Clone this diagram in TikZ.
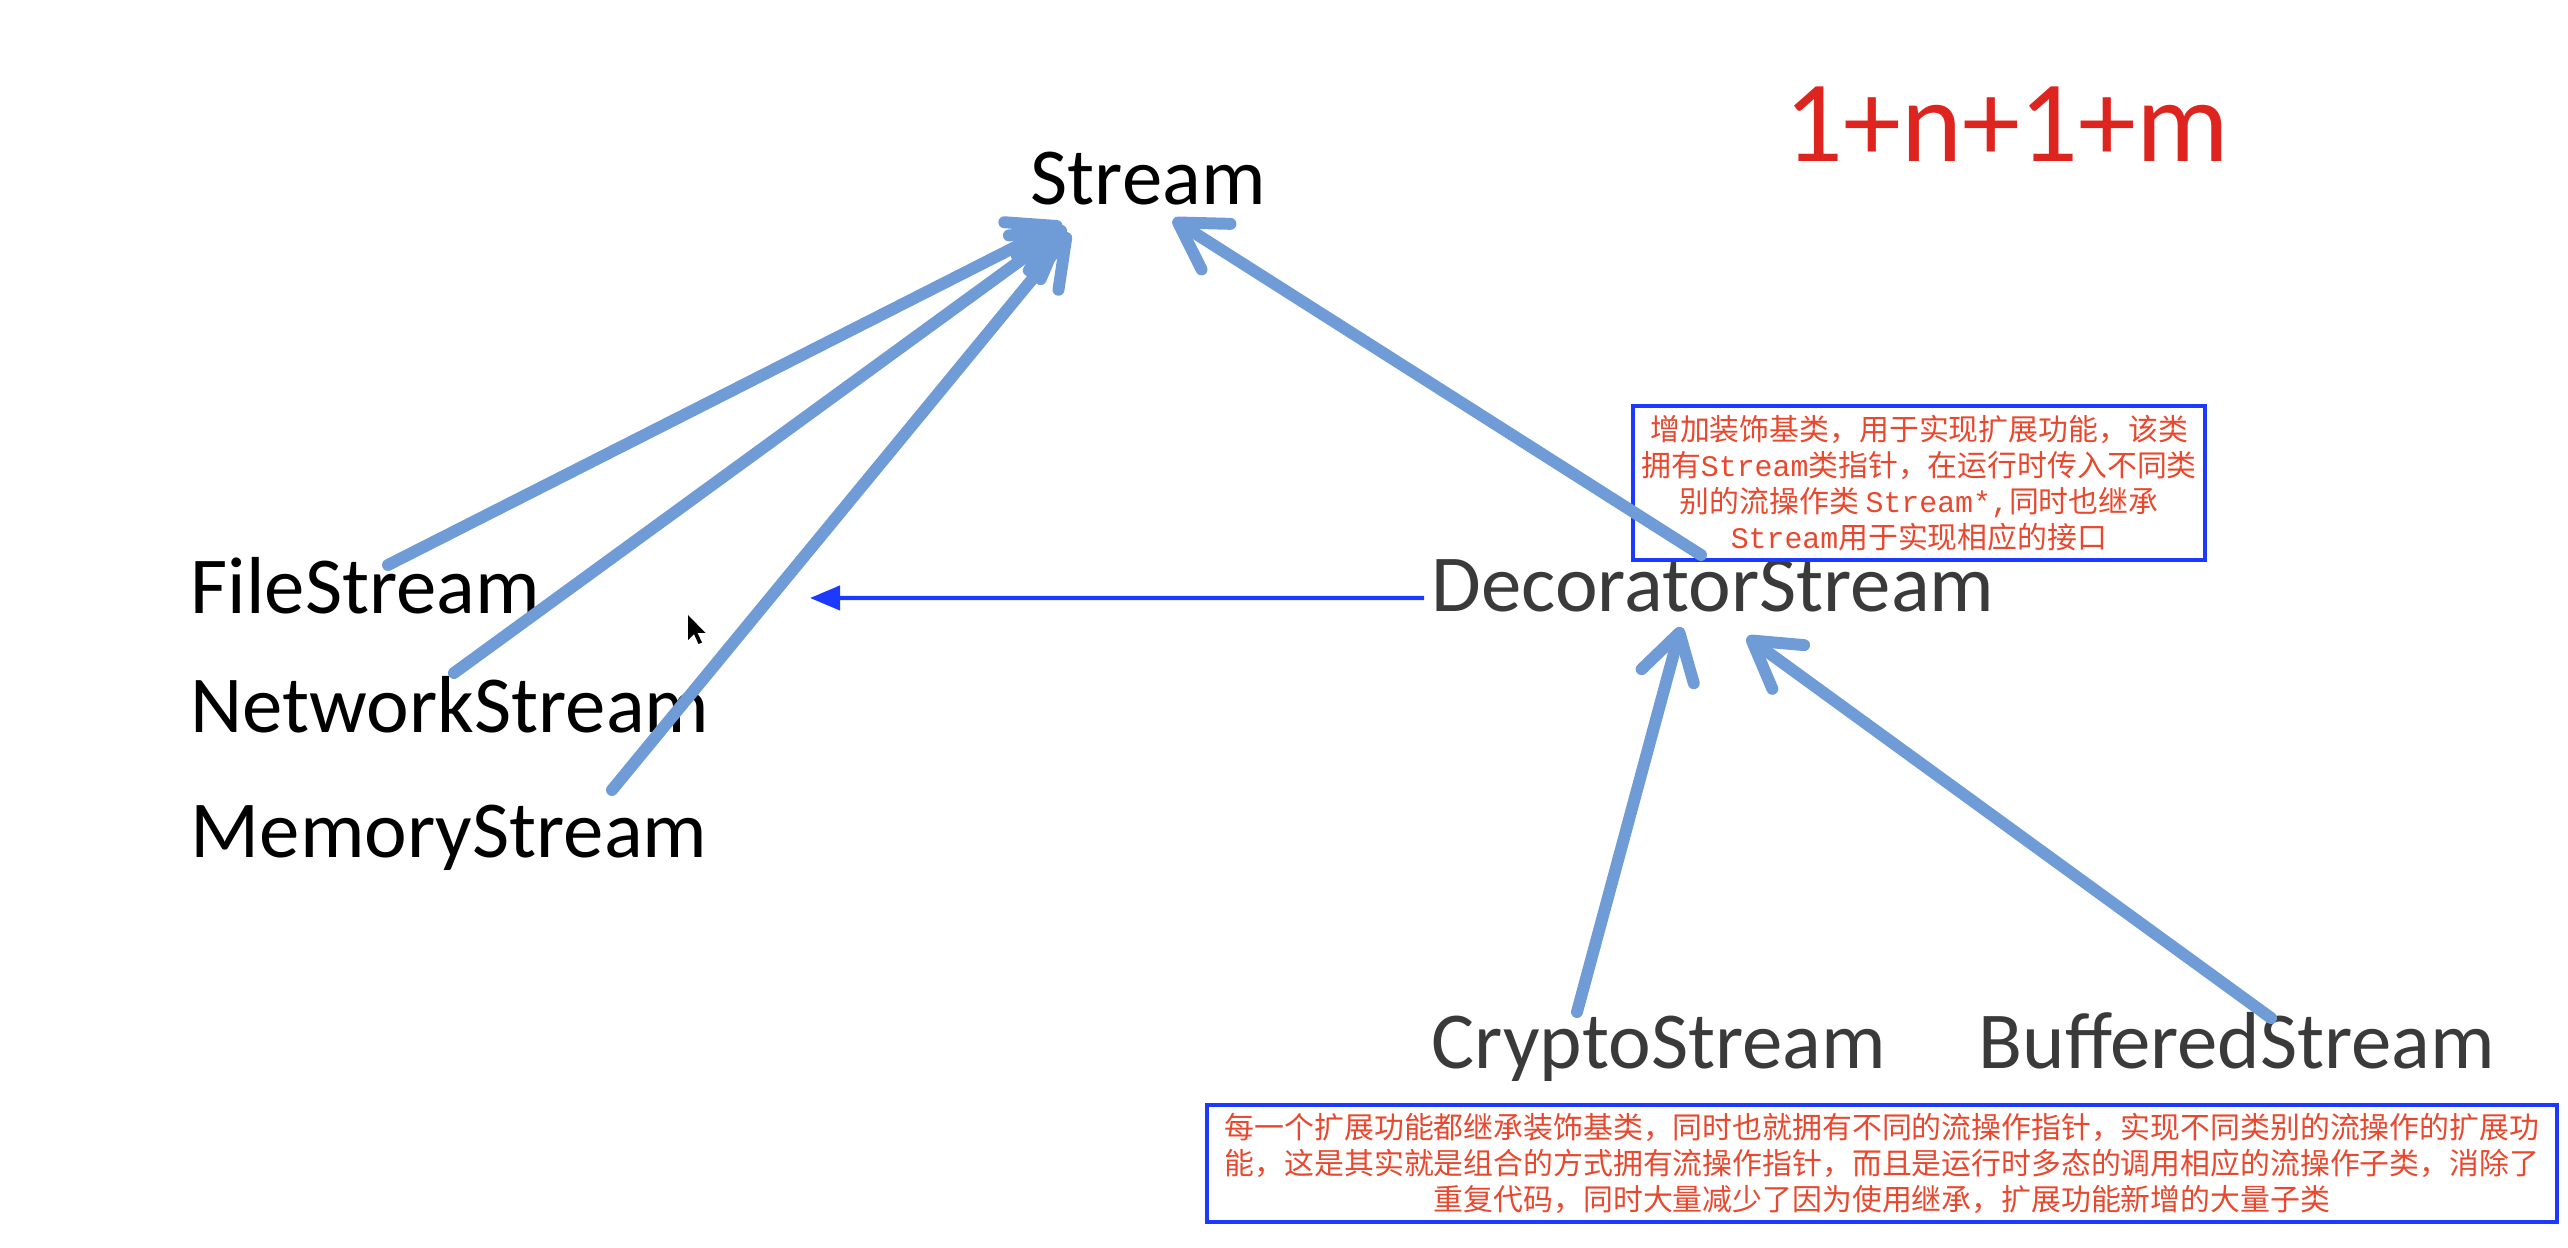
\documentclass[tikz,border=0pt]{standalone}
\usepackage{fontspec}
\setmainfont{Carlito}
\setmonofont{Liberation Mono}
\newfontfamily\cjk{Noto Sans CJK SC}
\usetikzlibrary{arrows.meta}
\definecolor{arrowblue}{RGB}{111,156,214}
\definecolor{noteblue}{RGB}{28,58,255}
\definecolor{notered}{RGB}{232,72,46}
\definecolor{costred}{RGB}{222,36,30}
\definecolor{decogray}{RGB}{58,58,58}

\begin{document}
\begin{tikzpicture}[
  cls/.style={anchor=base west, inner sep=0pt, font=\fontsize{23}{28}\selectfont},
  inh/.style={draw=arrowblue, line width=3.4pt, line cap=round,
    -{Straight Barb[length=4.5mm, width=5.4mm, round]}},
  hold/.style={draw=noteblue, line width=1.2pt, -{Triangle[length=3mm, width=2.4mm]}},
  note/.style={draw=noteblue, line width=1.4pt, inner sep=0pt, align=center,
    text=notered, font=\cjk\fontsize{8.5}{10.2}\selectfont}]
  \useasboundingbox (0,0) rectangle (25.68,-12.48);

  \node[cls] (st) at (10.30,-2.05) {Stream};
  \node[cls] (fs) at (1.90,-6.14) {FileStream};
  \node[cls] (ns) at (1.90,-7.33) {NetworkStream};
  \node[cls] (ms) at (1.90,-8.58) {MemoryStream};
  \node[cls, text=decogray] (ds) at (14.31,-6.12) {DecoratorStream};
  \node[cls, text=decogray] (cs) at (14.31,-10.69) {CryptoStream};
  \node[cls, text=decogray] (bs) at (19.78,-10.69) {BufferedStream};
  \node[cls, font=\fontsize{33}{40}\selectfont, text=costred] (cost) at (17.84,-1.62) {1+n+1+m};

  \node[note, minimum width=5.72cm, minimum height=1.54cm] (ptrnote) at (19.19,-4.83)
    {增加装饰基类，用于实现扩展功能，该类\\拥有{\ttfamily Stream}类指针，在运行时传入不同类\\别的流操作类 {\ttfamily Stream*,}同时也继承\\{\ttfamily Stream}用于实现相应的接口};
  \node[note, minimum width=13.50cm, minimum height=1.17cm] (subnote) at (18.82,-11.635)
    {每一个扩展功能都继承装饰基类，同时也就拥有不同的流操作指针，实现不同类别的流操作的扩展功\\能，这是其实就是组合的方式拥有流操作指针，而且是运行时多态的调用相应的流操作子类，消除了\\重复代码，同时大量减少了因为使用继承，扩展功能新增的大量子类};

  \foreach \src/\tl/\hd in {fs/{(1.98,0.49)}/{(0.32,-0.17)},
                            ns/{(2.64,0.60)}/{(0.36,-0.21)},
                            ms/{(4.22,0.68)}/{(0.40,-0.27)}}{
    \draw[inh] ([shift={\tl}]\src.base west) -- ([shift={\hd}]st.south west);
  }
  \draw[inh] ([shift={(2.70,0.57)}]ds.base west) -- ([shift={(1.43,-0.13)}]st.south west);
  \draw[inh] ([shift={(1.46,0.57)}]cs.base west) -- ([shift={(2.50,-0.15)}]ds.base west);
  \draw[inh] ([shift={(2.93,0.51)}]bs.base west) -- ([shift={(3.16,-0.25)}]ds.base west);

  \coordinate (recv) at (8.10,-5.98);
  \draw[hold] ([shift={(-0.07,0.14)}]ds.base west) -- (recv);

  % mouse pointer
  \fill[black] (6.88,-6.15) -- ++(0,-0.25) -- ++(0.06,0.06) -- ++(0.045,-0.10)
    -- ++(0.035,0.015) -- ++(-0.045,0.095) -- ++(0.08,0) -- cycle;
\end{tikzpicture}
\end{document}
